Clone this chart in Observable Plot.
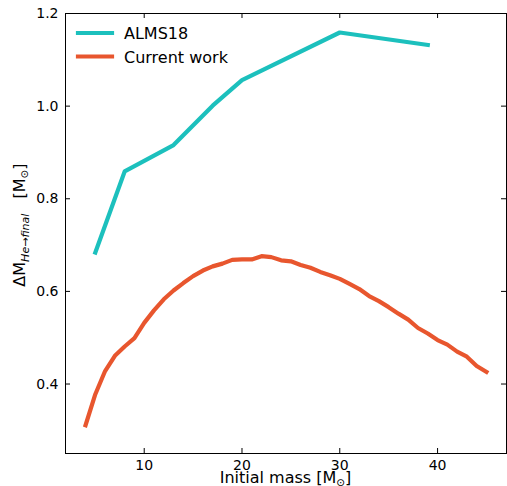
<!DOCTYPE html>
<html><head><meta charset="utf-8">
<script src="https://cdn.jsdelivr.net/npm/d3@7"></script>
<script src="https://cdn.jsdelivr.net/npm/@observablehq/plot@0.6"></script>
<style>body{margin:0;background:#fff} svg{display:block}</style>
</head><body><div id="chart"></div>
<script>
const seriesNames = ["ALMS18", "Current work"];
const seriesColors = ["#1cc0bd", "#e8562e"];
const almsMass = [5, 8, 13, 17, 20, 30, 39];
const almsDM = [0.684, 0.859, 0.916, 1.001, 1.056, 1.159, 1.132];
const curMass = [4,5,6,7,8,9,10,11,12,13,14,15,16,17,18,19,20,21,22,23,24,25,26,27,28,29,30,31,32,33,34,35,36,37,38,39,40,41,42,43,44,45];
const curDM = [0.311,0.378,0.428,0.461,0.481,0.499,0.532,0.559,0.583,0.602,0.618,0.633,0.645,0.654,0.660,0.668,0.669,0.669,0.676,0.674,0.667,0.665,0.657,0.651,0.642,0.635,0.627,0.616,0.605,0.590,0.579,0.566,0.552,0.539,0.521,0.509,0.495,0.485,0.470,0.459,0.439,0.426];
const xTicks = [10, 20, 30, 40];
const yTicks = [0.4, 0.6, 0.8, 1.0, 1.2];

const almsData = almsMass.map((m, i) => ({m, dm: almsDM[i]}));
const curData = curMass.map((m, i) => ({m, dm: curDM[i]}));

const W = 507, H = 486, mL = 65, mR = 1, mT = 13, mB = 33;
const fw = W - mL - mR, fh = H - mT - mB;
const font = "DejaVu Sans";
const lineOpts = {x: "m", y: "dm", strokeWidth: 4.2, strokeLinecap: "square", strokeLinejoin: "round"};

const chart = Plot.plot({
  width: W, height: H,
  marginLeft: mL, marginRight: mR, marginTop: mT, marginBottom: mB,
  style: {fontFamily: font, fontSize: "14px", color: "black", background: "white"},
  x: {domain: [1.95, 47.05]},
  y: {domain: [0.25, 1.2]},
  marks: [
    Plot.line(almsData, {...lineOpts, stroke: seriesColors[0]}),
    Plot.line(curData, {...lineOpts, stroke: seriesColors[1]}),
    Plot.frame({stroke: "black", strokeWidth: 1}),
    Plot.ruleX(xTicks, {stroke: "black", insetTop: fh - 5}),
    Plot.ruleX(xTicks, {stroke: "black", insetBottom: fh - 5}),
    Plot.ruleY(yTicks, {stroke: "black", insetRight: fw - 5}),
    Plot.ruleY(yTicks, {stroke: "black", insetLeft: fw - 5}),
    Plot.axisX(xTicks, {tickSize: 0, tickPadding: 7, label: null, fontSize: 14}),
    Plot.axisY(yTicks, {tickSize: 0, tickPadding: 7, label: null, fontSize: 14, tickFormat: d => d.toFixed(1)})
  ]
});
document.getElementById("chart").appendChild(chart);

const svg = d3.select(chart);
// x label
const xl = svg.append("text")
  .attr("x", mL + fw / 2).attr("y", 483)
  .attr("text-anchor", "middle")
  .attr("font-family", font).attr("font-size", 16).attr("fill", "black");
xl.append("tspan").text("Initial mass [M");
xl.append("tspan").attr("font-size", 10.5).attr("dy", 2.5).text("\u2299");
xl.append("tspan").attr("dy", -2.5).text("]");

// y label
const yl = svg.append("text")
  .attr("transform", "translate(25,225) rotate(-90)")
  .attr("text-anchor", "middle")
  .attr("font-family", font).attr("font-size", 16).attr("fill", "black");
yl.append("tspan").text("\u0394M");
yl.append("tspan").attr("font-size", 11).attr("font-style", "italic").attr("dy", 3.5).text("He\u2192final");
yl.append("tspan").attr("dy", -3.5).text("\u00a0\u00a0\u00a0[M");
yl.append("tspan").attr("font-size", 10.5).attr("dy", 2.5).text("\u2299");
yl.append("tspan").attr("dy", -2.5).text("]");

// legend
const leg = svg.append("g");
seriesNames.forEach((name, i) => {
  const y = 33 + i * 23.5;
  leg.append("line").attr("x1", 78).attr("x2", 112).attr("y1", y).attr("y2", y)
    .attr("stroke", seriesColors[i]).attr("stroke-width", 4.2).attr("stroke-linecap", "square");
  leg.append("text").attr("x", 124).attr("y", y + 6)
    .attr("text-anchor", "start")
    .attr("font-family", font).attr("font-size", 16).attr("fill", "black").text(name);
});
</script>
</body></html>
